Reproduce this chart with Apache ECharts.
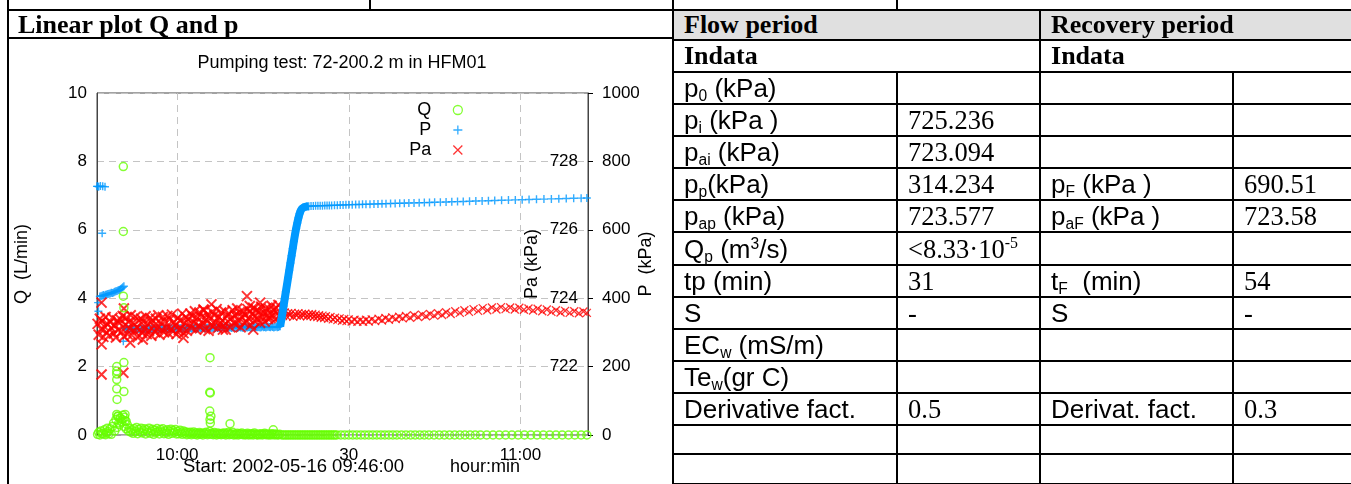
<!DOCTYPE html>
<html>
<head>
<meta charset="utf-8">
<title>Linear plot Q and p</title>
<script src="https://cdn.jsdelivr.net/npm/echarts@6/dist/echarts.min.js"></script>
<style>
html, body { margin: 0; padding: 0; width: 1351px; height: 484px; overflow: hidden; background: #fff; }
#chart { position: absolute; left: 0; top: 0; width: 1351px; height: 484px; }
.ln { position: absolute; background: #000; }
.head { position: absolute; left: 18px; top: 10px; height: 28px; line-height: 28px; font: bold 26px 'Liberation Serif', serif; }
table.info { position: absolute; left: 672px; top: 9px; width: 720px; border-collapse: collapse; table-layout: fixed; }
table.info td { border: 2px solid #000; padding: 0 0 0 10px; white-space: nowrap; overflow: hidden;
  font: 26px/26px 'Liberation Sans', Arial, sans-serif; color: #000; }
table.info td.v { font: 26.5px/26px 'Liberation Serif', serif; }
table.info tr.hd td { font: bold 26px/26px 'Liberation Serif', serif; }
table.info tr.gray td { background: #e0e0e0; }
sub { font-size: 0.6em; vertical-align: -0.25em; line-height: 0; }
sup { font-size: 0.6em; vertical-align: 0.6em; line-height: 0; }
</style>
</head>
<body>
<div id="chart"></div>

<!-- frame lines of the report page -->
<div class="ln" style="left:7px;top:0;width:2px;height:484px"></div>
<div class="ln" style="left:369px;top:0;width:2px;height:10px"></div>
<div class="ln" style="left:896px;top:0;width:2px;height:10px"></div>
<div class="ln" style="left:7px;top:9px;width:666px;height:2px"></div>
<div class="ln" style="left:7px;top:37px;width:666px;height:2px"></div>
<div class="ln" style="left:672px;top:0;width:2px;height:484px"></div>
<div class="head">Linear plot Q and p</div>

<table class="info">
  <colgroup><col style="width:224px"><col style="width:143px"><col style="width:193px"><col style="width:160px"></colgroup>
  <tr class="hd gray" style="height:30px"><td colspan="2">Flow period</td><td colspan="2">Recovery period</td></tr>
  <tr class="hd" style="height:32px"><td colspan="2">Indata</td><td colspan="2">Indata</td></tr>
  <tr style="height:32px"><td>p<sub>0</sub> (kPa)</td><td class="v"></td><td></td><td class="v"></td></tr>
  <tr style="height:32px"><td>p<sub>i</sub> (kPa )</td><td class="v">725.236</td><td></td><td class="v"></td></tr>
  <tr style="height:32px"><td>p<sub>ai</sub> (kPa)</td><td class="v">723.094</td><td></td><td class="v"></td></tr>
  <tr style="height:32px"><td>p<sub>p</sub>(kPa)</td><td class="v">314.234</td><td>p<sub>F</sub> (kPa )</td><td class="v">690.51</td></tr>
  <tr style="height:32px"><td>p<sub>ap</sub> (kPa)</td><td class="v">723.577</td><td>p<sub>aF</sub> (kPa )</td><td class="v">723.58</td></tr>
  <tr style="height:33px"><td>Q<sub>p</sub> (m<sup>3</sup>/s)</td><td class="v">&lt;8.33·10<sup>-5</sup></td><td></td><td class="v"></td></tr>
  <tr style="height:32px"><td>tp (min)</td><td class="v">31</td><td>t<sub>F</sub>&nbsp; (min)</td><td class="v">54</td></tr>
  <tr style="height:32px"><td>S</td><td class="v">-</td><td>S</td><td class="v">-</td></tr>
  <tr style="height:32px"><td>EC<sub>w</sub> (mS/m)</td><td class="v"></td><td></td><td class="v"></td></tr>
  <tr style="height:32px"><td>Te<sub>w</sub>(gr C)</td><td class="v"></td><td></td><td class="v"></td></tr>
  <tr style="height:32px"><td>Derivative fact.</td><td class="v">0.5</td><td>Derivat. fact.</td><td class="v">0.3</td></tr>
  <tr style="height:29px"><td></td><td></td><td></td><td></td></tr>
  <tr style="height:30px"><td></td><td></td><td></td><td></td></tr>
</table>

<script>
// time in minutes after the start 2002-05-16 09:46:00
const xTickValues = [14, 44, 74];
const xTickLabels = ['10:00', '30', '11:00'];

// logger samples during the flow period (shared by Q, P and Pa)
const flowTime = [
  0.1, 0.3, 0.5, 0.7, 0.9, 1.1, 1.3, 1.5, 1.7, 1.9,
  2.1, 2.3, 2.5, 2.7, 2.9, 3.1, 3.3, 3.5, 3.7, 3.9,
  4.1, 4.3, 4.5, 4.7, 4.9, 5.1, 5.3, 5.5, 5.7, 5.9,
  6.1, 6.3, 6.5, 6.7, 6.9, 7.1, 7.3, 7.5, 7.7, 7.9,
  8.1, 8.3, 8.5, 8.7, 8.9, 9.1, 9.3, 9.5, 9.7, 9.9,
  10.1, 10.3, 10.5, 10.7, 10.9, 11.1, 11.3, 11.5, 11.7, 11.9,
  12.1, 12.3, 12.5, 12.7, 12.9, 13.1, 13.3, 13.5, 13.7, 13.9,
  14.1, 14.3, 14.5, 14.7, 14.9, 15.1, 15.3, 15.5, 15.7, 15.9,
  16.1, 16.3, 16.5, 16.7, 16.9, 17.1, 17.3, 17.5, 17.7, 17.9,
  18.1, 18.3, 18.5, 18.7, 18.9, 19.1, 19.3, 19.5, 19.7, 19.9,
  20.1, 20.3, 20.5, 20.7, 20.9, 21.1, 21.3, 21.5, 21.7, 21.9,
  22.1, 22.3, 22.5, 22.7, 22.9, 23.1, 23.3, 23.5, 23.7, 23.9,
  24.1, 24.3, 24.5, 24.7, 24.9, 25.1, 25.3, 25.5, 25.7, 25.9,
  26.1, 26.3, 26.5, 26.7, 26.9, 27.1, 27.3, 27.5, 27.7, 27.9,
  28.1, 28.3, 28.5, 28.7, 28.9, 29.1, 29.3, 29.5, 29.7, 29.9,
  30.1, 30.3, 30.5, 30.7, 30.9, 31.1, 31.3, 31.5, 31.7, 31.9
];

// P (kPa)
const pFlowValue = [
  727, 726, 405, 406, 407, 409, 408, 410, 411, 412,
  413, 414, 416, 415, 417, 419, 420, 421, 423, 424,
  426, 429, 432, 435, 312, 310, 311, 309, 310, 312,
  310, 309, 311, 310, 308, 310, 311, 309, 310, 311,
  310, 309, 311, 310, 312, 310, 309, 311, 310, 312,
  311, 310, 312, 309, 311, 310, 312, 311, 310, 312,
  311, 312, 310, 311, 313, 311, 310, 312, 311, 313,
  312, 311, 313, 312, 310, 312, 313, 311, 312, 313,
  312, 313, 311, 312, 314, 312, 313, 311, 313, 314,
  313, 312, 314, 313, 311, 313, 314, 312, 313, 314,
  313, 314, 312, 313, 315, 313, 314, 312, 314, 315,
  314, 313, 315, 314, 312, 314, 315, 313, 314, 315,
  314, 315, 313, 314, 316, 314, 315, 313, 315, 316,
  315, 314, 316, 315, 313, 315, 316, 314, 315, 316,
  315, 316, 314, 315, 317, 315, 316, 314, 316, 317,
  316, 315, 317, 316, 314, 316, 317, 315, 316, 318
];
const pExtraTime = [0.0, 0.6, 1.0, 1.4, 0.2, 0.25, 0.9, 4.6];
const pExtraValue = [727, 728, 727, 726, 387, 362, 590, 274];
const pRiseTime = [32.0, 32.2, 32.4, 32.6, 32.8, 33.0, 33.2, 33.4, 33.6, 33.8, 34.0, 34.2,
  34.4, 34.6, 34.8, 35.0, 35.2, 35.4, 35.6, 35.8, 36.0, 36.3, 36.6, 37.0];
const pRiseValue = [318, 336, 356, 377, 398, 419, 440, 461, 482, 503, 524, 545,
  566, 586, 604, 620, 635, 647, 656, 662, 665, 667, 668, 669];
const pRecTime = [
  37.4, 37.8, 38.2, 38.6, 39.0, 39.4, 39.8, 40.2, 40.6, 41.0,
  41.5, 42.0, 42.5, 43.0, 43.5, 44.0, 44.6, 45.2, 45.8, 46.4, 47.0,
  47.7, 48.4, 49.1, 49.8, 50.5, 51.3, 52.1, 52.9, 53.7, 54.5,
  55.4, 56.3, 57.2, 58.1, 59.0, 60.0, 61.0, 62.0, 63.0, 64.0,
  65.1, 66.2, 67.3, 68.4, 69.5, 70.7, 71.9, 73.1, 74.3, 75.5,
  76.8, 78.1, 79.4, 80.7, 82.0, 83.3, 84.6, 85.6
];
const pRecValue = [
  669.5, 669.8, 670.0, 670.2, 670.4, 670.6, 670.8, 671.0, 671.2, 671.4,
  671.7, 672.0, 672.3, 672.6, 672.9, 673.2, 673.5, 673.8, 674.1, 674.4, 674.7,
  675.0, 675.4, 675.7, 676.1, 676.4, 676.8, 677.2, 677.5, 677.9, 678.3,
  678.7, 679.1, 679.6, 680.0, 680.4, 680.9, 681.4, 681.9, 682.4, 682.9,
  683.4, 684.0, 684.5, 685.1, 685.6, 686.2, 686.8, 687.4, 688.0, 688.6,
  689.2, 689.8, 690.4, 691.0, 691.5, 692.1, 692.6, 693.0
];

// Pa (kPa)
const paFlowValue = [
  723.25, 722.93, 723.40, 723.10, 723.33, 722.87, 723.17, 723.45, 723.00, 723.23,
  722.90, 723.30, 723.13, 723.43, 722.97, 723.20, 722.85, 723.35, 723.07, 723.27,
  723.38, 723.02, 723.48, 722.88, 723.22, 723.42, 722.95, 723.30, 723.12, 723.50,
  722.92, 723.28, 723.05, 723.45, 723.15, 722.86, 723.36, 723.08, 723.40, 722.98,
  723.32, 723.10, 723.47, 722.95, 723.25, 723.05, 723.42, 722.90, 723.35, 723.18,
  723.02, 723.40, 723.12, 723.50, 722.93, 723.28, 723.08, 723.45, 723.00, 723.33,
  723.15, 723.48, 722.97, 723.38, 723.10, 723.52, 723.03, 723.30, 723.20, 722.95,
  723.42, 723.07, 723.35, 723.12, 723.55, 722.98, 723.28, 723.45, 723.05, 723.38,
  723.25, 723.55, 723.12, 723.48, 723.30, 723.62, 723.08, 723.42, 723.20, 723.58,
  723.15, 723.45, 723.28, 723.65, 723.10, 723.38, 723.52, 723.05, 723.40, 723.22,
  723.60, 723.18, 723.50, 723.30, 723.68, 723.12, 723.45, 723.25, 723.58, 723.35,
  723.20, 723.62, 723.08, 723.48, 723.32, 723.55, 723.15, 723.42, 723.65, 723.28,
  723.50, 723.22, 723.70, 723.35, 723.58, 723.15, 723.45, 723.62, 723.28, 723.52,
  723.30, 723.68, 723.40, 723.60, 723.22, 723.55, 723.72, 723.35, 723.48, 723.65,
  723.38, 723.62, 723.28, 723.75, 723.45, 723.58, 723.32, 723.70, 723.50, 723.40,
  723.68, 723.42, 723.78, 723.50, 723.65, 723.38, 723.72, 723.55, 723.80, 723.48
];
const paExtraTime = [0.8, 0.8, 0.8, 4.6, 4.7, 26.2, 28.5, 26.7, 20.0, 18.6, 5.8, 15.1, 8.0, 27.3, 22.0];
const paExtraValue = [721.77, 722.65, 723.87, 721.82, 723.70, 724.06, 723.87, 723.77, 723.82, 723.67,
  722.70, 722.84, 722.79, 723.08, 723.08];
const paRecTime = [
  32.2, 32.5, 32.8, 33.1, 33.4, 33.7, 34.0, 34.3, 34.6, 34.9, 35.2, 35.5, 35.8, 36.1,
  36.4, 36.7, 37.0, 37.3, 37.6, 37.9, 38.2, 38.5, 38.8, 39.1, 39.4, 39.7, 40.0,
  40.4, 40.8, 41.2, 41.6, 42.0, 42.4, 42.8, 43.2, 43.6, 44.0,
  44.5, 45.0, 45.5, 46.0, 46.5, 47.0, 47.5, 48.0,
  48.6, 49.2, 49.8, 50.4, 51.0, 51.6, 52.2, 52.8, 53.4, 54.0,
  54.7, 55.4, 56.1, 56.8, 57.5, 58.2, 58.9, 59.6, 60.3,
  61.0, 61.8, 62.6, 63.4, 64.2, 65.0, 65.8, 66.6, 67.4, 68.2, 69.0, 69.8, 70.6, 71.4, 72.2,
  73.0, 73.8, 74.6, 75.4, 76.2, 77.0, 77.8, 78.6, 79.4, 80.2, 81.0, 81.8, 82.6, 83.4, 84.2,
  85.0, 85.6
];
const paRecValue = [
  723.55, 723.48, 723.58, 723.47, 723.56, 723.50, 723.57, 723.46, 723.55, 723.49, 723.56, 723.47, 723.54, 723.50,
  723.55, 723.47, 723.53, 723.48, 723.54, 723.46, 723.52, 723.45, 723.50, 723.43, 723.49, 723.42, 723.47,
  723.40, 723.45, 723.38, 723.43, 723.36, 723.41, 723.34, 723.39, 723.33, 723.38,
  723.32, 723.37, 723.31, 723.36, 723.31, 723.37, 723.32, 723.38,
  723.33, 723.40, 723.35, 723.42, 723.37, 723.44, 723.39, 723.46, 723.41, 723.48,
  723.43, 723.50, 723.45, 723.52, 723.47, 723.54, 723.49, 723.56, 723.51,
  723.59, 723.54, 723.62, 723.57, 723.65, 723.60, 723.68, 723.63, 723.71, 723.65, 723.73, 723.67, 723.74, 723.68, 723.73,
  723.67, 723.72, 723.66, 723.70, 723.64, 723.69, 723.62, 723.67, 723.60, 723.65, 723.58, 723.63, 723.57, 723.62, 723.56,
  723.61, 723.57
];

// Q (L/min)
const qFlowValue = [
  0.02, 0.08, 0.00, 0.12, 0.05, 0.03, 0.15, 0.01, 0.06, 0.10,
  0.04, 0.18, 0.02, 0.25, 0.35, 0.12, 0.45, 0.22, 0.55, 0.30,
  0.48, 0.38, 0.58, 0.25, 0.42, 0.18, 0.30, 0.12, 0.20, 0.08,
  0.15, 0.05, 0.18, 0.10, 0.22, 0.04, 0.16, 0.09, 0.20, 0.06,
  0.13, 0.18, 0.03, 0.15, 0.08, 0.20, 0.05, 0.12, 0.17, 0.02,
  0.14, 0.07, 0.19, 0.10, 0.03, 0.16, 0.09, 0.18, 0.04, 0.12,
  0.06, 0.15, 0.02, 0.11, 0.17, 0.05, 0.13, 0.08, 0.16, 0.03,
  0.10, 0.04, 0.14, 0.07, 0.02, 0.12, 0.05, 0.09, 0.01, 0.07,
  0.03, 0.08, 0.01, 0.05, 0.09, 0.02, 0.06, 0.00, 0.04, 0.07,
  0.02, 0.05, 0.00, 0.06, 0.03, 0.08, 0.01, 0.04, 0.10, 0.02,
  0.05, 0.01, 0.07, 0.03, 0.00, 0.06, 0.02, 0.04, 0.01, 0.05,
  0.02, 0.06, 0.00, 0.03, 0.07, 0.01, 0.04, 0.02, 0.08, 0.00,
  0.03, 0.01, 0.05, 0.00, 0.04, 0.02, 0.06, 0.01, 0.03, 0.00,
  0.02, 0.05, 0.00, 0.03, 0.01, 0.04, 0.00, 0.06, 0.02, 0.01,
  0.00, 0.03, 0.01, 0.04, 0.00, 0.02, 0.05, 0.01, 0.03, 0.00,
  0.02, 0.00, 0.04, 0.01, 0.03, 0.00, 0.02, 0.01, 0.00, 0.02
];
const qExtraTime = [4.6, 4.6, 4.6, 4.7, 3.45, 3.45, 3.45, 3.45, 3.45, 3.5, 3.45, 4.7, 4.7,
  19.75, 19.7, 19.8, 19.7, 19.9, 19.75, 19.8, 23.25, 1.8, 30.8, 3.6, 4.0, 4.4, 3.8, 4.9, 5.1, 4.8];
const qExtraValue = [7.85, 5.95, 4.06, 3.72, 2.0, 1.87, 1.78, 1.62, 1.35, 1.04, 0.6, 2.12, 1.27,
  2.26, 1.25, 1.23, 0.7, 0.55, 0.45, 0.35, 0.33, 0.2, 0.15, 0.55, 0.5, 0.45, 0.35, 0.6, 0.4, 0.52];
const qRecTime = [
  32.3, 32.6, 32.9, 33.2, 33.5, 33.8, 34.1, 34.4, 34.7, 35.0, 35.3, 35.6, 35.9, 36.2, 36.5, 36.8,
  37.1, 37.4, 37.7, 38.0, 38.3, 38.6, 38.9, 39.2, 39.5, 39.8, 40.1, 40.4, 40.7, 41.0, 41.3, 41.6, 41.9,
  42.6, 43.3, 44.0, 44.7, 45.4, 46.1, 46.8, 47.5, 48.2, 48.9, 49.6, 50.3, 51.0, 51.7, 52.4,
  53.2, 54.0, 54.8, 55.6, 56.4, 57.2, 58.0,
  58.9, 59.8, 60.7, 61.6, 62.5, 63.4, 64.3, 65.2, 66.1, 67.0,
  68.1, 69.2, 70.3, 71.4, 72.5, 73.6, 74.7, 75.8, 76.9, 78.0, 79.1, 80.2, 81.3, 82.4, 83.5, 84.6,
  85.6
];
const qRecValue = [
  0, 0, 0, 0, 0, 0, 0, 0, 0, 0, 0, 0, 0, 0, 0, 0,
  0, 0, 0, 0, 0, 0, 0, 0, 0, 0, 0, 0, 0, 0, 0, 0, 0,
  0, 0, 0, 0, 0, 0, 0, 0, 0, 0, 0, 0, 0, 0, 0,
  0, 0, 0, 0, 0, 0, 0,
  0, 0, 0, 0, 0, 0, 0, 0, 0, 0,
  0, 0, 0, 0, 0, 0, 0, 0, 0, 0, 0, 0, 0, 0, 0, 0,
  0
];

const chartTitle = 'Pumping test: 72-200.2 m in HFM01';
const startText = 'Start: 2002-05-16 09:46:00';

const FONT = '"Liberation Sans", Arial, sans-serif';
const COLOR_Q = '#66ff00';
const COLOR_P = '#0099ff';
const COLOR_PA = '#ff0000';
const PLUS = 'path://M0,4L8,4M4,0L4,8';
const CROSS = 'path://M0,0L8,8M8,0L0,8';

const pairs = (t, v) => t.map((x, i) => [x, v[i]]);

const dashed = { color: '#c4c4c4', type: [7, 5], width: 1 };

const chart = echarts.init(document.getElementById('chart'), null, { renderer: 'canvas' });

const option = {
  animation: false,
  textStyle: { fontFamily: FONT },
  grid: { left: 97, top: 93, width: 491, height: 342, show: true, borderColor: '#444', borderWidth: 1 },
  legend: {
    data: ['Q', 'P', 'Pa'],
    orient: 'vertical',
    align: 'right',
    right: 888,
    top: 101,
    padding: 0,
    itemGap: 2,
    itemWidth: 9,
    itemHeight: 9,
    selectedMode: false,
    itemStyle: { borderWidth: 1.3 },
    textStyle: { fontSize: 18, color: '#000', fontFamily: FONT, padding: [0, 17, 0, 0] }
  },
  xAxis: {
    type: 'value',
    min: 0,
    max: 85.8,
    axisLine: { show: false },
    axisTick: { show: false, customValues: xTickValues },
    axisLabel: {
      customValues: xTickValues,
      formatter: v => xTickLabels[xTickValues.indexOf(v)] || '',
      fontSize: 17, color: '#000', margin: 12
    },
    splitLine: { show: true, lineStyle: dashed }
  },
  yAxis: [
    {
      type: 'value', position: 'left', min: 0, max: 10, interval: 2,
      name: 'Q  (L/min)', nameLocation: 'middle', nameGap: 66, nameRotate: 90, nameMoveOverlap: false,
      nameTextStyle: { fontSize: 18, color: '#000' },
      axisLine: { show: true, lineStyle: { color: '#444' } },
      axisTick: { show: false },
      axisLabel: { fontSize: 17, color: '#000', margin: 10 },
      splitLine: { show: true, lineStyle: dashed }
    },
    {
      type: 'value', position: 'right', min: 720, max: 730, interval: 2,
      name: 'Pa (kPa)', nameLocation: 'middle', nameGap: -65, nameRotate: 90, nameMoveOverlap: false,
      nameTextStyle: { fontSize: 18, color: '#000' },
      axisLine: { show: false },
      axisTick: { show: false },
      axisLabel: {
        inside: true, fontSize: 17, color: '#000', margin: 10,
        formatter: v => (v === 720 || v === 730 ? '' : String(v))
      },
      splitLine: { show: false }
    },
    {
      type: 'value', position: 'right', min: 0, max: 1000, interval: 200,
      name: 'P  (kPa)', nameLocation: 'middle', nameGap: 49, nameRotate: 90, nameMoveOverlap: false,
      nameTextStyle: { fontSize: 18, color: '#000' },
      axisLine: { show: true, lineStyle: { color: '#444' } },
      axisTick: { show: true, length: 5, lineStyle: { color: '#000' } },
      axisLabel: { fontSize: 17, color: '#000', margin: 14, formatter: v => String(v) },
      splitLine: { show: false }
    }
  ],
  graphic: [
    { type: 'text', x: 342, y: 63, style: { text: chartTitle, font: '18px ' + FONT, fill: '#000', align: 'center', verticalAlign: 'middle' } },
    { type: 'text', x: 183, y: 467, style: { text: startText, font: '18.5px ' + FONT, fill: '#000', align: 'left', verticalAlign: 'middle' } },
    { type: 'text', x: 450, y: 467, style: { text: 'hour:min', font: '18px ' + FONT, fill: '#000', align: 'left', verticalAlign: 'middle' } }
  ],
  series: [
    {
      name: 'P rise',
      type: 'line',
      yAxisIndex: 2,
      data: pairs(pRiseTime, pRiseValue),
      symbol: 'none',
      silent: true,
      lineStyle: { color: COLOR_P, width: 8 }
    },
    {
      name: 'P',
      type: 'scatter',
      yAxisIndex: 2,
      symbol: PLUS,
      symbolSize: 8,
      itemStyle: { color: 'rgba(0,0,0,0)', borderColor: COLOR_P, borderWidth: 1.4 },
      data: [].concat(pairs(pExtraTime, pExtraValue), pairs(flowTime, pFlowValue),
        pairs(pRiseTime, pRiseValue), pairs(pRecTime, pRecValue))
    },
    {
      name: 'Pa',
      type: 'scatter',
      yAxisIndex: 1,
      symbol: CROSS,
      symbolSize: 10,
      itemStyle: { color: 'rgba(0,0,0,0)', borderColor: COLOR_PA, borderWidth: 2 },
      data: [].concat(pairs(flowTime, paFlowValue), pairs(paExtraTime, paExtraValue))
    },
    {
      name: 'Pa',
      type: 'scatter',
      yAxisIndex: 1,
      symbol: CROSS,
      symbolSize: 8,
      itemStyle: { color: 'rgba(0,0,0,0)', borderColor: COLOR_PA, borderWidth: 1.3 },
      data: pairs(paRecTime, paRecValue)
    },
    {
      name: 'Q',
      type: 'scatter',
      yAxisIndex: 0,
      symbol: 'circle',
      symbolSize: 8,
      itemStyle: { color: 'rgba(0,0,0,0)', borderColor: COLOR_Q, borderWidth: 1.5 },
      data: [].concat(pairs(flowTime, qFlowValue), pairs(qExtraTime, qExtraValue), pairs(qRecTime, qRecValue))
    }
  ]
};

chart.setOption(option);
</script>
</body>
</html>
